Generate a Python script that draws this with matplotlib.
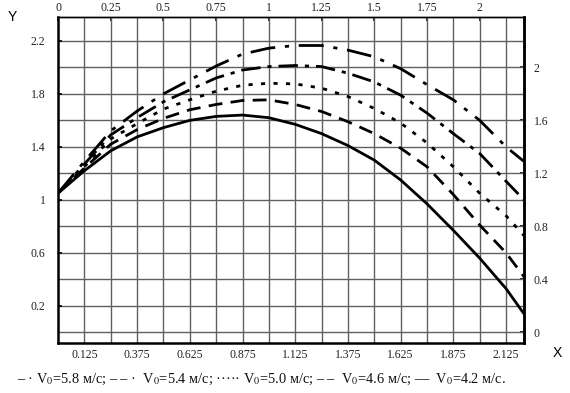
"""Trajectories Y(X) for several launch speeds V0, black-and-white style."""

import matplotlib
matplotlib.use("Agg")
import matplotlib.pyplot as plt
import numpy as np

plt.rcParams["font.family"] = ["Liberation Serif", "DejaVu Serif"]
plt.rcParams["mathtext.fontset"] = "stix"

x_pts = [0.0, 0.125, 0.25, 0.375, 0.5, 0.625, 0.75, 0.875, 1.0, 1.125,
         1.25, 1.375, 1.5, 1.625, 1.75, 1.875, 2.0, 2.125, 2.21]
y_58 = [1.05, 1.29, 1.52, 1.67, 1.80, 1.905, 2.01, 2.10, 2.145, 2.165,
        2.165, 2.13, 2.08, 1.99, 1.87, 1.755, 1.60, 1.40, 1.29]
y_54 = [1.05, 1.27, 1.49, 1.62, 1.74, 1.83, 1.92, 1.98, 2.006, 2.014,
        2.006, 1.956, 1.89, 1.79, 1.655, 1.50, 1.35, 1.14, 1.00]
y_50 = [1.05, 1.25, 1.46, 1.575, 1.685, 1.755, 1.82, 1.865, 1.88, 1.875,
        1.843, 1.78, 1.69, 1.58, 1.43, 1.25, 1.05, 0.88, 0.73]
y_46 = [1.05, 1.24, 1.42, 1.53, 1.615, 1.68, 1.72, 1.75, 1.755, 1.72,
        1.667, 1.59, 1.50, 1.39, 1.25, 1.04, 0.81, 0.60, 0.42]
y_42 = [1.05, 1.22, 1.37, 1.475, 1.545, 1.60, 1.63, 1.64, 1.62, 1.57,
        1.50, 1.41, 1.30, 1.15, 0.97, 0.77, 0.56, 0.33, 0.14]

bottom_ticks = [0.125, 0.375, 0.625, 0.875, 1.125, 1.375, 1.625, 1.875, 2.125]
top_ticks = [0, 0.25, 0.5, 0.75, 1, 1.25, 1.5, 1.75, 2]
left_ticks = [0.2, 0.6, 1.0, 1.4, 1.8, 2.2]
right_ticks = [0, 0.4, 0.8, 1.2, 1.6, 2.0]

legend_text = ("– · V$_0$=5.8 м/с; – – ·  V$_0$=5.4 м/с; ····· V$_0$=5.0 м/с; "
               "– –  V$_0$=4.6 м/с; —  V$_0$=4.2 м/с.")


def fmt(v):
    return f"{v:g}"


fig = plt.figure(figsize=(5.7, 3.93), dpi=100)
ax = fig.add_axes([58 / 570, 1 - 343 / 393, 466 / 570, 326 / 393])

styles = [
    (y_58, (0, (9, 3.5, 1.5, 3.5))),
    (y_54, (0, (7, 2.5, 1.5, 2.5))),
    (y_50, (0, (1.5, 3))),
    (y_46, (0, (5, 3))),
    (y_42, "-"),
]
for ys, ls in styles:
    ax.plot(x_pts, ys, color="black", lw=2.0, linestyle=ls,
            solid_capstyle="butt", dash_capstyle="butt",
            solid_joinstyle="round", zorder=3)

ax.set_xlim(0, 2.21)
ax.set_ylim(-0.08, 2.38)

# grid every 0.125 in x and 0.2 in y
for gx in np.arange(1, 18) * 0.125:
    ax.axvline(gx, color="#606060", lw=1.0, zorder=1)
for gy in np.arange(0, 12) * 0.2:
    ax.axhline(gy, color="#606060", lw=1.0, zorder=1)

ax.set_xticks(bottom_ticks)
ax.set_xticklabels([fmt(v) for v in bottom_ticks])
ax.set_yticks(left_ticks)
ax.set_yticklabels([fmt(v) for v in left_ticks])
ax.tick_params(axis="x", direction="in", length=0, pad=4, labelsize=8.5,
               labelcolor="#222222")
ax.tick_params(axis="y", direction="in", length=3, width=1.2, pad=9,
               labelsize=8.5, labelcolor="#222222")

top = ax.secondary_xaxis("top")
top.set_xticks(top_ticks)
top.set_xticklabels([fmt(v) for v in top_ticks])
top.tick_params(direction="in", length=3, width=1.2, pad=2, labelsize=8.5,
                labelcolor="#222222")
top.spines["top"].set_linewidth(1.0)

right = ax.secondary_yaxis("right")
right.set_yticks(right_ticks)
right.set_yticklabels([fmt(v) for v in right_ticks])
right.tick_params(direction="in", length=3, width=1.2, pad=7, labelsize=8.5,
                  labelcolor="#222222")
right.spines["right"].set_linewidth(1.8)

for side in ["left", "bottom", "right"]:
    ax.spines[side].set_linewidth(1.8)
ax.spines["top"].set_linewidth(1.0)

fig.text(12 / 570, 1 - 17 / 393, "Y", family="Liberation Sans", fontsize=10,
         ha="center", va="center")
fig.text(557 / 570, 1 - 353 / 393, "X", family="Liberation Sans", fontsize=10,
         ha="center", va="center")
fig.text(17 / 570, 1 - 379 / 393, legend_text, fontsize=10.4, ha="left",
         va="center", color="#111111")

fig.savefig("out.png", dpi=100)
